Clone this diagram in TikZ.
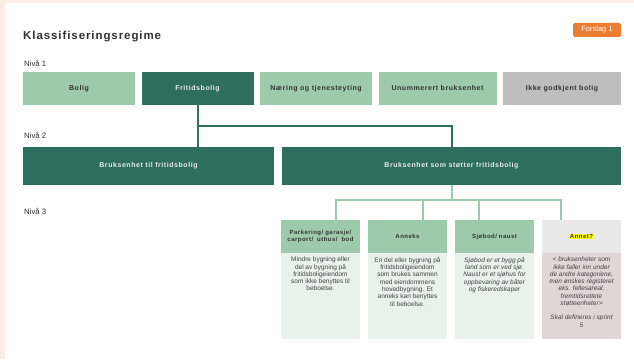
\documentclass[tikz,border=0pt]{standalone}
\usepackage{fontspec}
\setmainfont{Liberation Sans}
\newfontfamily\spaced[LetterSpace=8]{Liberation Sans}
\usepackage{xcolor}
\usetikzlibrary{positioning}
\definecolor{rosa}{RGB}{252,235,228}
\definecolor{lysgronn}{RGB}{157,202,170}
\definecolor{morkgronn}{RGB}{46,110,94}
\definecolor{gra}{RGB}{190,190,190}
\definecolor{blek}{RGB}{232,241,234}
\definecolor{lysgra}{RGB}{232,232,232}
\definecolor{lilla}{RGB}{224,214,214}
\definecolor{oransje}{RGB}{237,125,49}
\definecolor{tekst}{RGB}{51,51,51}
\definecolor{gul}{RGB}{255,255,0}
\newcommand\hl[1]{{\setlength\fboxsep{0.6pt}\colorbox{gul}{#1}}}
\newcommand\bodytext[1]{\parbox[t][78pt][t]{76pt}{\centering #1}}

\begin{document}
\begin{tikzpicture}[
  x=1pt, y=1pt,
  node distance=6.5pt,
  lvl/.style={rectangle, outer sep=0pt, inner sep=1pt, minimum height=33pt,
              text height=5.2pt, text depth=1.4pt,
              font=\spaced\bfseries\fontsize{7}{8}\selectfont},
  light/.style={lvl, fill=lysgronn, text=tekst},
  dark/.style={lvl, fill=morkgronn, text=white!92!black},
  grey/.style={lvl, fill=gra, text=tekst},
  head/.style={rectangle, outer sep=0pt, inner xsep=3pt, text width=73pt,
               align=center, minimum height=33pt, text=tekst,
               font=\spaced\bfseries\fontsize{6}{7.5}\selectfont},
  body/.style={rectangle, outer sep=0pt, inner xsep=1.5pt, inner ysep=4pt,
               text=tekst!92!white, font=\fontsize{6.5}{7.3}\selectfont},
  niva/.style={anchor=west, inner sep=1pt, text=tekst,
               font=\fontsize{7.8}{9}\selectfont},
  dline/.style={draw=morkgronn, line width=2pt},
  lline/.style={draw=lysgronn, line width=2pt}
]
  \fill[rosa] (0,0) rectangle (634,359);
  \fill[white] (5,0) rectangle (634,356);

  \node[anchor=west, inner sep=1pt, text=tekst,
        font=\spaced\bfseries\fontsize{11.5}{13}\selectfont] (tittel) at (22,322) {Klassifiseringsregime};
  \node[fill=oransje, rounded corners=1.5pt, minimum width=48pt, minimum height=14pt,
        text=white, font=\fontsize{7.5}{8}\selectfont] (forslag) at (597,329) {Forslag 1};

  \node[niva] (niva1) at (23,296) {Nivå 1};
  \node[light, minimum width=112pt, anchor=west] (bolig) at (23,270.5) {Bolig};
  \node[dark, minimum width=112pt, right=of bolig] (frit) {Fritidsbolig};
  \node[light, minimum width=112pt, right=of frit] (naering) {Næring og tjenesteyting};
  \node[light, minimum width=118pt, right=of naering] (unum) {Unummerert bruksenhet};
  \node[grey, minimum width=118pt, right=of unum] (ikke) {Ikke godkjent bolig};

  \node[niva] (niva2) at (23,224) {Nivå 2};
  \node[dark, minimum width=251pt, minimum height=38pt, anchor=west] (bfrit) at (23,193) {Bruksenhet til fritidsbolig};
  \node[dark, minimum width=339pt, minimum height=38pt, right=8pt of bfrit] (bstot) {Bruksenhet som støtter fritidsbolig};

  \node[niva] (niva3) at (23,148) {Nivå 3};
  \node[head, fill=lysgronn, anchor=north west] (park) at (281,139) {Parkering/ garasje/\\ carport/\ \ uthus/\ \ bod};
  \node[head, fill=lysgronn, right=8pt of park] (anneks) {Anneks};
  \node[head, fill=lysgronn, right=8pt of anneks] (sjobod) {Sjøbod/ naust};
  \node[head, fill=lysgra, right=8pt of sjobod] (annet) {\hl{Annet?}};

  \node[body, fill=blek, below=0pt of park] (parkb) {\bodytext{Mindre bygning eller\\ del av bygning på\\ fritidsboligeiendom\\ som ikke benyttes til\\ beboelse.}};
  \node[body, fill=blek, below=0pt of anneks] (anneksb) {\bodytext{En del eller bygning på\\ fritidsboligeiendom\\ som brukes sammen\\ med eiendommens\\ hovedbygning. Et\\ anneks kan benyttes\\ til beboelse.}};
  \node[body, fill=blek, below=0pt of sjobod] (sjobodb) {\bodytext{\itshape Sjøbod er et bygg på\\ land som er ved sjø.\\ Naust er et sjøhus for\\ oppbevaring av båter\\ og fiskeredskaper}};
  \node[body, fill=lilla, below=0pt of annet] (annetb) {\bodytext{\itshape < bruksenheter som\\ ikke faller inn under\\ de andre kategoriene,\\ men ønskes registeret\\ eks. fellesareal,\\ fremtidsrettete\\ støtteenheter>\\[7pt] Skal defineres i sprint\\ 5}};

  \draw[dline] (frit.south) -- (frit.south |- bfrit.north);
  \draw[dline] ([yshift=-21pt]frit.south) -| (bstot.north);
  \draw[lline] (bstot.south) -- ++(0,-15) coordinate (j2);
  \draw[lline] ([xshift=15.5pt]park.north) |- (j2) -| ([xshift=-20.5pt]annet.north);
  \draw[lline] ([xshift=15.5pt]anneks.north) -- ([xshift=15.5pt]anneks.north |- j2);
  \draw[lline] ([xshift=-15.5pt]sjobod.north) -- ([xshift=-15.5pt]sjobod.north |- j2);
\end{tikzpicture}
\end{document}
